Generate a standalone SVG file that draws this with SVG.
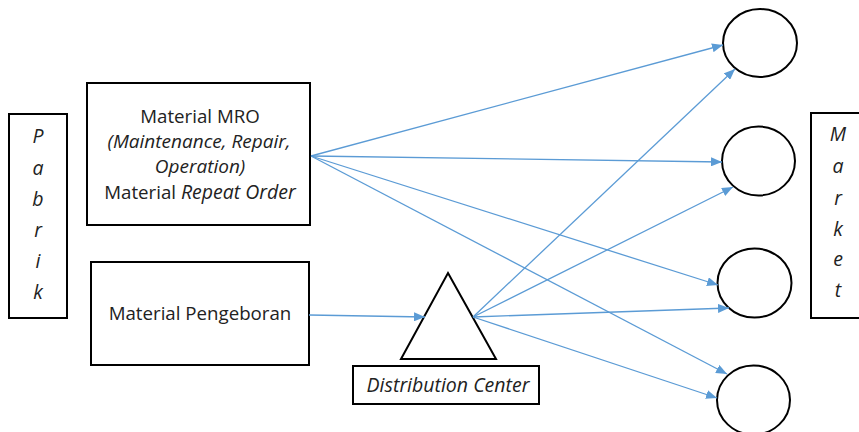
<svg xmlns="http://www.w3.org/2000/svg" width="859" height="432" viewBox="0 0 859 432">
  <defs>
    <marker id="arrow" markerUnits="userSpaceOnUse" markerWidth="11" markerHeight="9" refX="11" refY="4.5" orient="auto">
      <path d="M0,0 L11,4.5 L0,9 z" fill="#5B9BD5"/>
    </marker>
    <style>
      .box { fill: #fff; stroke: #000; stroke-width: 2; }
      .lbl { font-family: "Open Sans", "Liberation Sans", sans-serif; font-size: 18.7px; fill: #222; text-anchor: middle; }
      .it { font-style: italic; font-size: 19.5px; }
      .it2 { font-style: italic; font-size: 19px; }
      .edge { stroke: #5B9BD5; stroke-width: 1.3; fill: none; marker-end: url(#arrow); }
    </style>
  </defs>
  <rect width="859" height="432" fill="#fff"/>

  <!-- Factory column -->
  <g id="pabrik">
    <rect class="box" x="9" y="114" width="58" height="204"/>
    <text class="lbl it" x="38" y="143">P</text>
    <text class="lbl it" x="38" y="175">a</text>
    <text class="lbl it" x="38" y="206">b</text>
    <text class="lbl it" x="38" y="237">r</text>
    <text class="lbl it" x="38" y="268">i</text>
    <text class="lbl it" x="38" y="299">k</text>
  </g>

  <g id="material-mro">
    <rect class="box" x="87" y="83" width="223" height="142"/>
    <text class="lbl" x="200" y="123">Material MRO</text>
    <text class="lbl it2" x="199" y="148">(Maintenance, Repair,</text>
    <text class="lbl it2" x="200" y="173">Operation)</text>
    <text class="lbl" x="200" y="199">Material <tspan class="it">Repeat Order</tspan></text>
  </g>

  <g id="material-pengeboran">
    <rect class="box" x="91" y="262" width="218" height="103"/>
    <text class="lbl" x="200" y="320">Material Pengeboran</text>
  </g>

  <g id="distribution-center">
    <polygon class="box" points="448,273 496,359 401,359"/>
    <rect class="box" x="353" y="366" width="186" height="38"/>
    <text class="lbl it" x="448" y="392">Distribution Center</text>
  </g>

  <!-- Market outlets -->
  <g id="market-1"><ellipse class="box" cx="760" cy="43" rx="37" ry="34"/></g>
  <g id="market-2"><ellipse class="box" cx="758.5" cy="161" rx="36.5" ry="34.5"/></g>
  <g id="market-3"><ellipse class="box" cx="754.5" cy="283" rx="37" ry="34.5"/></g>
  <g id="market-4"><ellipse class="box" cx="753.5" cy="400" rx="36.5" ry="34.5"/></g>

  <g id="market">
    <rect class="box" x="811" y="113" width="60" height="205"/>
    <text class="lbl it" x="838" y="141">M</text>
    <text class="lbl it" x="838" y="173">a</text>
    <text class="lbl it" x="838" y="205">r</text>
    <text class="lbl it" x="838" y="236">k</text>
    <text class="lbl it" x="838" y="266">e</text>
    <text class="lbl it" x="838" y="297">t</text>
  </g>

  <g id="connectors">
    <line class="edge" x1="311" y1="156" x2="723" y2="45"/>
    <line class="edge" x1="311" y1="156" x2="722" y2="162"/>
    <line class="edge" x1="311" y1="156" x2="718" y2="285"/>
    <line class="edge" x1="311" y1="156" x2="727" y2="374"/>
    <line class="edge" x1="309" y1="315" x2="425" y2="317"/>
    <line class="edge" x1="473" y1="317" x2="735" y2="69"/>
    <line class="edge" x1="473" y1="317" x2="733" y2="187"/>
    <line class="edge" x1="473" y1="317" x2="729" y2="308"/>
    <line class="edge" x1="473" y1="317" x2="717" y2="398"/>
  </g>
</svg>
